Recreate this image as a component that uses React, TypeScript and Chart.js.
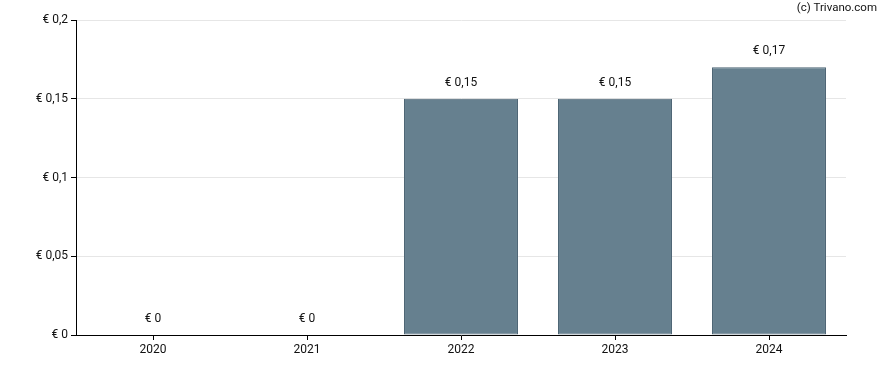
import React, { useEffect, useRef } from "react";
import { Chart, registerables } from "chart.js";

Chart.register(...registerables);

const categories = ["2020", "2021", "2022", "2023", "2024"];
const values = [0, 0, 0.15, 0.15, 0.17];
const yTicks = [0, 0.05, 0.1, 0.15, 0.2];

const fmt = (v: number) => "€ " + String(Number(v.toFixed(4))).replace(".", ",");

const labelPlugin = {
  id: "barLabels",
  afterDatasetsDraw(chart: any) {
    const ctx = chart.ctx;
    const meta = chart.getDatasetMeta(0);
    ctx.save();
    ctx.font = "12px Roboto";
    ctx.fillStyle = "#111";
    ctx.textAlign = "center";
    ctx.textBaseline = "middle";
    meta.data.forEach((bar: any, i: number) => {
      ctx.fillText(fmt(values[i]), bar.x, bar.y - 16);
    });
    ctx.textAlign = "right";
    ctx.font = "11.5px Roboto";
    ctx.fillText("(c) Trivano.com", 877, 8);
    ctx.restore();
  },
};

export default function App() {
  const ref = useRef<HTMLCanvasElement>(null);
  useEffect(() => {
    const chart = new Chart(ref.current!, {
      type: "bar",
      data: {
        labels: categories,
        datasets: [
          {
            data: values,
            backgroundColor: "#66808f",
            borderColor: "#4b6373",
            borderWidth: 1,
            borderSkipped: false,
            categoryPercentage: 1,
            barPercentage: 0.74,
          },
        ],
      },
      options: {
        animation: false,
        responsive: false,
        maintainAspectRatio: false,
        layout: { padding: { top: 20, right: 42, left: 0, bottom: 0 } },
        plugins: { legend: { display: false }, tooltip: { enabled: false } },
        scales: {
          x: {
            grid: {
              display: true,
              drawOnChartArea: false,
              offset: false,
              tickLength: 5,
              tickColor: "#000",
            },
            border: { color: "#000", width: 1 },
            ticks: { color: "#111", font: { family: "Roboto", size: 12 }, padding: 3 },
            afterFit: (s: any) => {
              s.height = 35;
            },
          },
          y: {
            min: 0,
            max: 0.2,
            afterBuildTicks: (s: any) => {
              s.ticks = yTicks.map((v) => ({ value: v }));
            },
            grid: { color: "#e6e6e6", tickLength: 5, tickColor: "#000" },
            border: { color: "#000", width: 1 },
            ticks: {
              color: "#111",
              font: { family: "Roboto", size: 12 },
              padding: 3,
              callback: (v: any) => fmt(Number(v)),
            },
            afterFit: (s: any) => {
              s.width = 76;
            },
          },
        },
      },
      plugins: [labelPlugin],
    });
    return () => chart.destroy();
  }, []);
  return (
    <div style={{ position: "fixed", left: 0, top: 0, width: 888, height: 370 }}>
      <canvas ref={ref} width={888} height={370} />
    </div>
  );
}
